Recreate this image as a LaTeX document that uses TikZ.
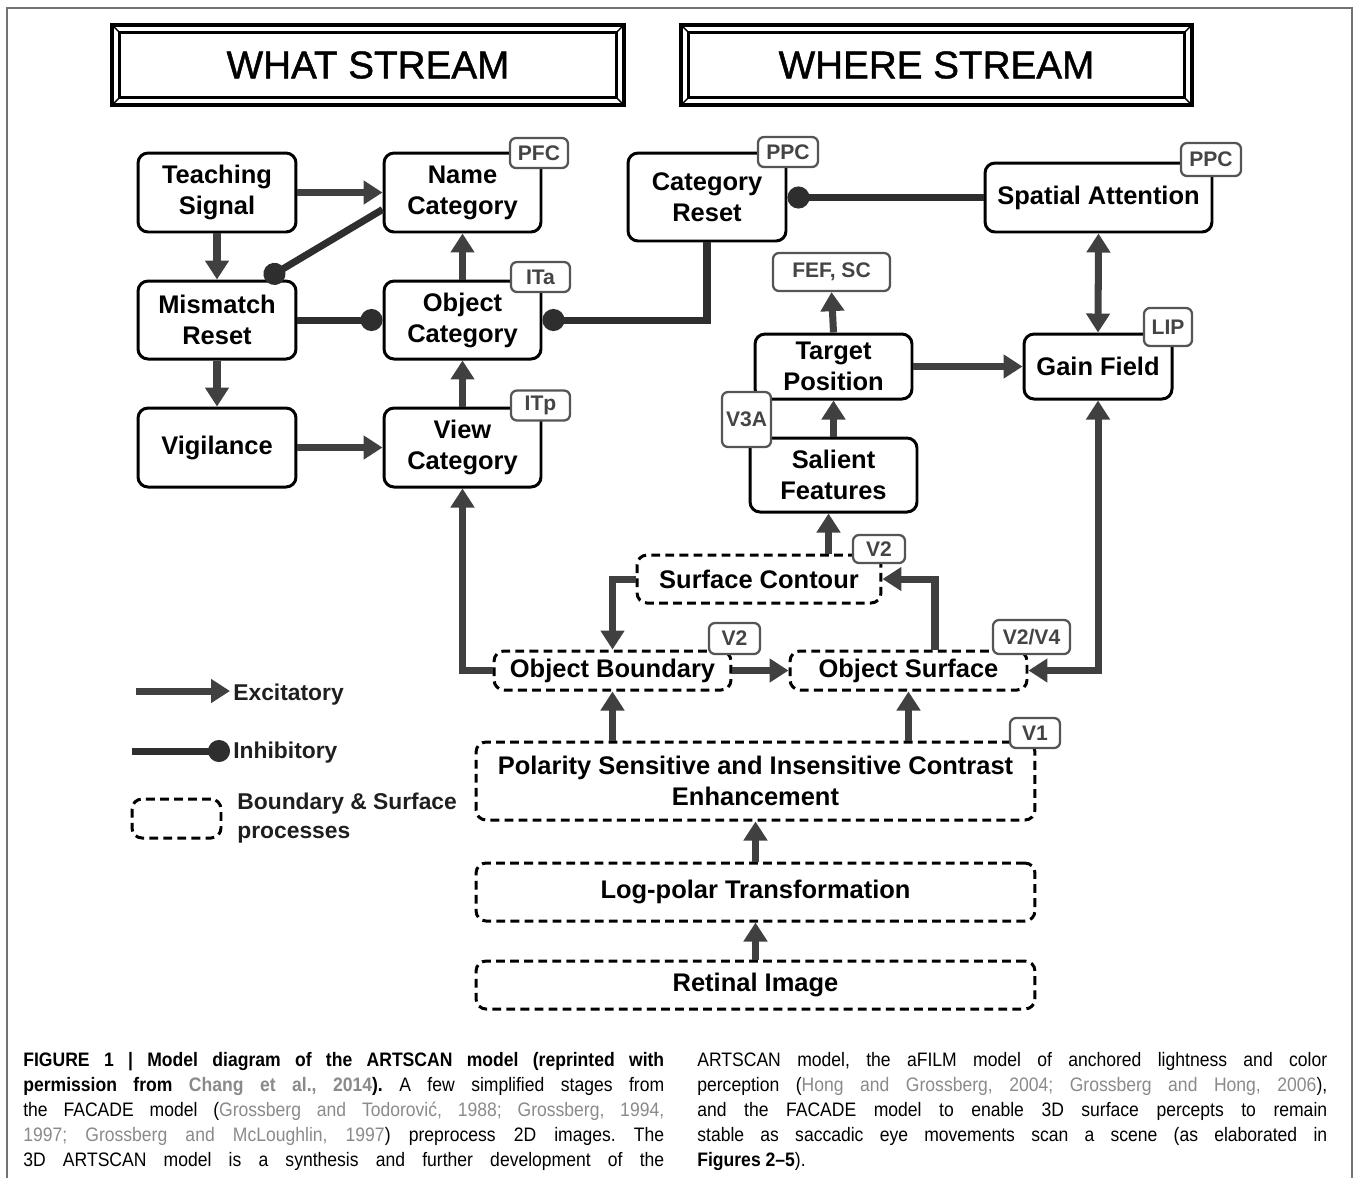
\documentclass[tikz,border=0pt]{standalone}
\usepackage{fontspec}
\setmainfont{Liberation Sans}
\newfontfamily\capfont[FakeStretch=0.9]{Liberation Sans}
\newfontfamily\titlefont[FakeBold=1.2]{Liberation Sans}
\usetikzlibrary{arrows.meta}
\frenchspacing
\definecolor{conn}{HTML}{404040}
\definecolor{areagray}{HTML}{555555}
\definecolor{citegray}{HTML}{8A8A8A}
\newcommand{\unitfont}{\fontsize{14.5}{17.6}\selectfont\bfseries}
\newcommand{\areafont}{\fontsize{12}{14}\selectfont\bfseries}
\newcommand{\legfont}{\fontsize{13}{16.5}\selectfont\bfseries}
\newcommand{\citeg}[1]{\textcolor{citegray}{#1}}
\tikzset{exc/.tip={Triangle[width=0.46cm,length=0.38cm]},
  inh/.tip={Circle[length=0.44cm,width=0.44cm]}}

\begin{document}
\begin{tikzpicture}[x=0.02cm, y=-0.02cm,
    unit/.style={draw, line width=1.7pt, rounded corners=0.2cm, fill=white,
      align=center, font=\unitfont, inner sep=0pt},
    process/.style={unit, dash pattern=on 5pt off 3pt},
    area/.style={draw=areagray, line width=1.3pt, rounded corners=0.12cm, fill=white,
      text=areagray!80!black, font=\areafont, inner xsep=0.08cm, inner ysep=0pt,
      minimum height=0.6cm},
    excite/.style={draw=conn, line width=4pt, -exc},
    inhibit/.style={draw=black!82, line width=4pt, -inh},
    stream/.style={draw, line width=1.8pt, minimum height=1.6cm,
      font=\titlefont\fontsize{22}{26}\selectfont},
    legtext/.style={font=\legfont, text=black!88, inner sep=0.06cm},
    caption/.style={anchor=north west, align=justify, inner sep=0pt,
      font=\capfont\fontsize{11.1}{14.2}\selectfont}]
  \useasboundingbox (0,0) rectangle (1354,1178);
  \draw[line width=1pt, draw=black!55] (7,1178) -- (7,8) -- (1352,8) -- (1352,1178);

  % stream titles
  \node[stream, minimum width=10.24cm] (what) at (368,65) {WHAT STREAM};
  \node[stream, minimum width=10.22cm] (where) at (936.5,65) {WHERE STREAM};
  \foreach \s in {what,where}
  {\draw[line width=1.4pt] ([shift={(0.18cm,-0.18cm)}]\s.north west) rectangle
      ([shift={(-0.18cm,0.18cm)}]\s.south east);
    \foreach \c/\dx/\dy in {north west/1/-1, north east/-1/-1, south west/1/1, south east/-1/1}
      \draw[line width=0.8pt] (\s.\c) -- ([shift={({\dx*0.18cm},{\dy*0.18cm})}]\s.\c);
  }

  % what stream
  \node[unit, minimum width=3.16cm, minimum height=1.58cm] (teach) at (217,192.5) {Teaching\\Signal};
  \node[unit, minimum width=3.14cm, minimum height=1.58cm] (name) at (462.5,192.5) {Name\\Category};
  \node[unit, minimum width=3.16cm, minimum height=1.56cm] (mismatch) at (217,320) {Mismatch\\Reset};
  \node[unit, minimum width=3.14cm, minimum height=1.56cm] (objcat) at (462.5,320) {Object\\Category};
  \node[unit, minimum width=3.16cm, minimum height=1.58cm] (vig) at (217,447.5) {Vigilance};
  \node[unit, minimum width=3.14cm, minimum height=1.58cm] (viewcat) at (462.5,447.5) {View\\Category};

  % where stream
  \node[unit, minimum width=3.16cm, minimum height=1.76cm] (catreset) at (707,197) {Category\\Reset};
  \node[unit, minimum width=4.54cm, minimum height=1.38cm] (spatial) at (1098.5,197.5) {Spatial Attention};
  \node[area, minimum width=2.34cm, minimum height=0.76cm] (fef) at (831.5,272) {FEF, SC};
  \node[unit, minimum width=3.14cm, minimum height=1.30cm] (target) at (833.5,366.5) {Target\\Position};
  \node[unit, minimum width=3.34cm, minimum height=1.48cm] (salient) at (833.5,475) {Salient\\Features};
  \node[unit, minimum width=2.96cm, minimum height=1.30cm] (gain) at (1098,366.5) {Gain Field};

  % boundary and surface stages
  \node[process, minimum width=4.88cm, minimum height=0.96cm] (contour) at (759,579) {Surface Contour};
  \node[process, minimum width=4.74cm, minimum height=0.78cm] (boundary) at (612.5,670.5) {Object Boundary};
  \node[process, minimum width=4.74cm, minimum height=0.78cm] (surface) at (908.5,670.5) {Object Surface};
  \node[process, minimum width=11.18cm, minimum height=1.56cm] (polarity) at (755.5,781)
    {Polarity Sensitive and Insensitive Contrast\\Enhancement};
  \node[process, minimum width=11.18cm, minimum height=1.16cm] (logpolar) at (755.5,892) {Log-polar Transformation};
  \node[process, minimum width=11.18cm, minimum height=0.96cm] (retinal) at (755.5,985) {Retinal Image};

  % brain areas
  \node[area, minimum width=1.16cm] (pfc) at (539,153) {PFC};
  \node[area, minimum width=1.18cm] (ita) at (540.5,277) {ITa};
  \node[area, minimum width=1.18cm] (itp) at (540.5,405.5) {ITp};
  \node[area, minimum width=1.20cm] (ppca) at (788,152) {PPC};
  \node[area, minimum width=1.20cm, minimum height=0.66cm] (ppcb) at (1211,159.5) {PPC};
  \node[area, minimum width=0.96cm, minimum height=0.76cm] (lip) at (1168,327) {LIP};
  \node[area, minimum width=0.98cm, minimum height=1.10cm, inner xsep=0pt] (vthreea) at (746.5,419.5) {V3A};
  \node[area, minimum width=1.04cm, minimum height=0.56cm] (vtwoa) at (879,549) {V2};
  \node[area, minimum width=1.02cm, minimum height=0.62cm] (vtwob) at (734.5,638.5) {V2};
  \node[area, minimum width=1.54cm, minimum height=0.68cm] (vtwofour) at (1031.5,637) {V2/V4};
  \node[area, minimum width=1.00cm] (vone) at (1035,733) {V1};

  % connections
  \draw[excite] (teach.east) -- (name.west);
  \draw[excite] (teach.south) -- (mismatch.north);
  \draw[inhibit] ([yshift=-0.34cm]name.west) -- ([xshift=0.96cm]mismatch.north);
  \draw[inhibit] (mismatch.east) -- (objcat.west);
  \draw[excite] (mismatch.south) -- (vig.north);
  \draw[excite] (vig.east) -- (viewcat.west);
  \draw[excite] (viewcat.north) -- (objcat.south);
  \draw[excite] (objcat.north) -- (name.south);
  \draw[inhibit] (catreset.south) |- (objcat.east);
  \draw[inhibit] (spatial.west) -- (spatial.west -| catreset.east);
  \draw[excite, exc-exc] (spatial.south) -- (gain.north);
  \draw[excite] (target.north) -- (fef.south);
  \draw[excite] (target.east) -- (gain.west);
  \draw[excite] (salient.north) -- (target.south);
  \draw[excite] ([xshift=-0.1cm]salient.south |- contour.north) -- ([xshift=-0.1cm]salient.south);
  \draw[excite] (contour.west) -| (boundary.north);
  \draw[excite] ([xshift=0.53cm]surface.north) |- (contour.east);
  \draw[excite] (boundary.east) -- (surface.west);
  \draw[excite] (boundary.west) -| (viewcat.south);
  \draw[excite, exc-exc] (surface.east) -| (gain.south);
  \draw[excite] (polarity.north -| boundary.south) -- (boundary.south);
  \draw[excite] (polarity.north -| surface.south) -- (surface.south);
  \draw[excite] (logpolar.north) -- (polarity.south);
  \draw[excite] (retinal.north) -- (logpolar.south);

  % legend
  \coordinate (exc0) at (136,691);
  \node[legtext, anchor=west] (exctext) at (230,695) {Excitatory};
  \draw[excite] (exc0) -- (exc0 -| exctext.west);
  \coordinate (inh0) at (132,751);
  \node[legtext, anchor=west] (inhtext) at (230,753) {Inhibitory};
  \draw[inhibit] (inh0) -- (inh0 -| inhtext.west);
  \node[process, minimum width=1.78cm, minimum height=0.78cm] (legbox) at (176.5,818.5) {};
  \node[legtext, anchor=west, align=left] (legboxtext) at (234,818) {Boundary \& Surface\\processes};

  % caption
  \node[caption, text width=12.82cm] (capleft) at (23,1052)
    {\textbf{FIGURE 1 | Model diagram of the ARTSCAN model (reprinted with}\linebreak
     \textbf{permission from \citeg{Chang et al., 2014}).} A few simplified stages from\linebreak
     the FACADE model (\citeg{Grossberg and Todorović, 1988; Grossberg, 1994,}\linebreak
     \citeg{1997; Grossberg and McLoughlin, 1997}) preprocess 2D images. The\linebreak
     \makebox[\linewidth][s]{3D ARTSCAN model is a synthesis and further development of the}};
  \node[caption, text width=12.6cm] (capright) at (697,1052)
    {ARTSCAN model, the aFILM model of anchored lightness and color\linebreak
     perception (\citeg{Hong and Grossberg, 2004; Grossberg and Hong, 2006}),\linebreak
     and the FACADE model to enable 3D surface percepts to remain\linebreak
     stable as saccadic eye movements scan a scene (as elaborated in\linebreak
     \textbf{Figures 2–5}).};
\end{tikzpicture}
\end{document}
